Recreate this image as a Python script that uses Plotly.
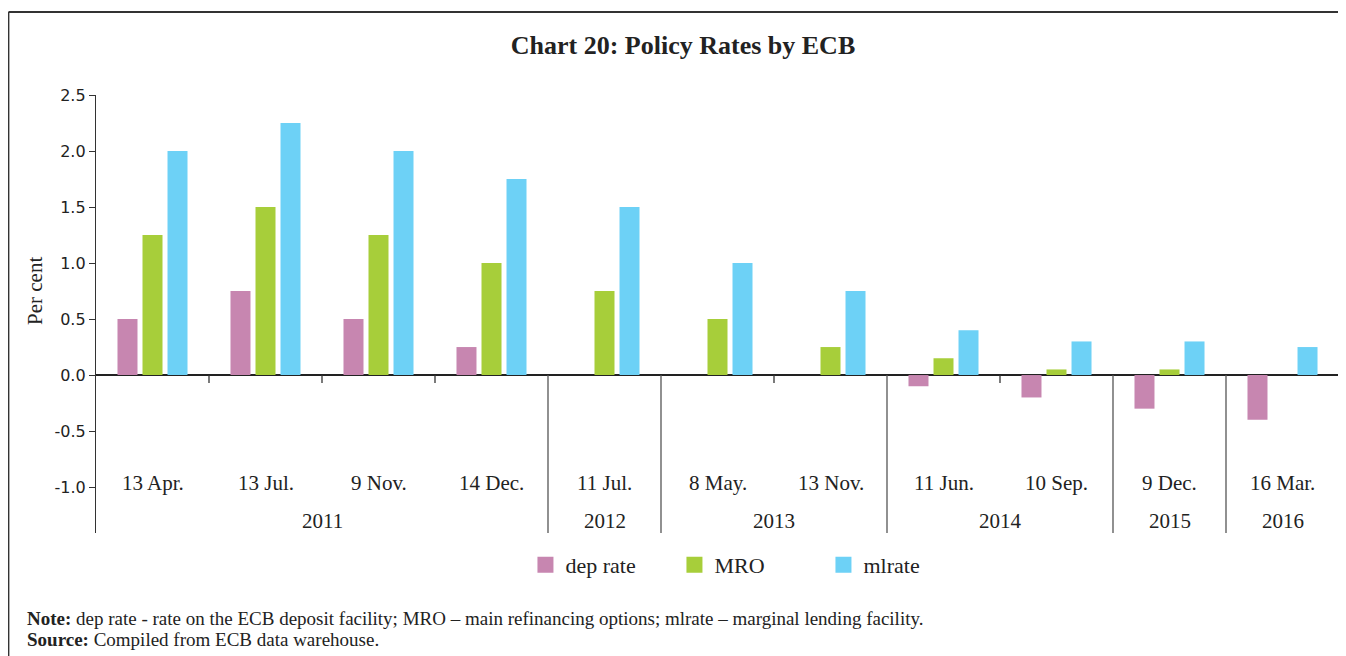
import plotly.graph_objects as go

# ---- data ----
dates = ["13 Apr.", "13 Jul.", "9 Nov.", "14 Dec.", "11 Jul.", "8 May.", "13 Nov.",
         "11 Jun.", "10 Sep.", "9 Dec.", "16 Mar."]
years = ["2011", "2011", "2011", "2011", "2012", "2013", "2013", "2014", "2014", "2015", "2016"]
dep_rate = [0.50, 0.75, 0.50, 0.25, 0.00, 0.00, 0.00, -0.10, -0.20, -0.30, -0.40]
mro = [1.25, 1.50, 1.25, 1.00, 0.75, 0.50, 0.25, 0.15, 0.05, 0.05, 0.00]
mlrate = [2.00, 2.25, 2.00, 1.75, 1.50, 1.00, 0.75, 0.40, 0.30, 0.30, 0.25]
y_ticks = [-1.0, -0.5, 0.0, 0.5, 1.0, 1.5, 2.0, 2.5]

series_names = ["dep rate", "MRO", "mlrate"]
series_colors = ["#C786B0", "#A7CE3A", "#6DD1F6"]

FONT = "Liberation Serif"
TICKFONT = "DejaVu Sans"
TXT = "#222222"
idx = list(range(len(dates)))

fig = go.Figure()
for name, vals, col in zip(series_names, [dep_rate, mro, mlrate], series_colors):
    fig.add_trace(go.Bar(x=idx, y=vals, name=name, marker_color=col,
                         marker_line_width=0, showlegend=False))
    # legend entry with a larger square swatch
    fig.add_trace(go.Scatter(x=[None], y=[None], mode="markers", name=name,
                             marker=dict(symbol="square", size=16, color=col)))

Y_MIN, Y_MAX = -1.41, 2.5

shapes = []
for i in range(len(dates)):
    xb = i + 0.5
    if i == len(dates) - 1 or years[i] != years[i + 1]:
        shapes.append(dict(type="line", xref="x", yref="y", x0=xb, x1=xb, y0=0, y1=Y_MIN,
                           line=dict(color="#555555", width=1.3)))
    else:
        shapes.append(dict(type="line", xref="x", yref="y", x0=xb, x1=xb, y0=0, y1=-0.07,
                           line=dict(color="#333333", width=1.3)))
# outer frame (top and left edges only are visible)
shapes.append(dict(type="line", xref="paper", yref="paper", x0=-0.0704, x1=1.05,
                   y0=1.1895, y1=1.1895, line=dict(color="#333333", width=1.8)))
shapes.append(dict(type="line", xref="paper", yref="paper", x0=-0.0704, x1=-0.0704,
                   y0=-0.4, y1=1.1895, line=dict(color="#333333", width=1.8)))

annotations = []
for i, d in enumerate(dates):
    annotations.append(dict(x=i, y=-0.964, xref="x", yref="y", text=d, showarrow=False,
                            font=dict(family=FONT, size=21, color=TXT)))
groups = []
for i, y in enumerate(years):
    if groups and groups[-1][0] == y:
        groups[-1][2] = i
    else:
        groups.append([y, i, i])
for y, a, b in groups:
    annotations.append(dict(x=(a + b) / 2, y=-1.304, xref="x", yref="y", text=y,
                            showarrow=False, font=dict(family=FONT, size=21, color=TXT)))

annotations.append(dict(x=-0.0491, y=0.75, xref="paper", yref="y", text="Per cent",
                        textangle=-90, showarrow=False, xanchor="center", yanchor="middle",
                        font=dict(family=FONT, size=21, color=TXT)))
annotations.append(dict(x=-0.0571, y=-0.196, xref="paper", yref="paper", xanchor="left",
                        yanchor="middle", showarrow=False, align="left",
                        text="<b>Note:</b> dep rate - rate on the ECB deposit facility; MRO \u2013 main refinancing options; mlrate \u2013 marginal lending facility.",
                        font=dict(family=FONT, size=19, color=TXT)))
annotations.append(dict(x=-0.0571, y=-0.244, xref="paper", yref="paper", xanchor="left",
                        yanchor="middle", showarrow=False, align="left",
                        text="<b>Source:</b> Compiled from ECB data warehouse.",
                        font=dict(family=FONT, size=19, color=TXT)))

fig.update_layout(
    width=1338, height=648,
    margin=dict(l=88, r=7, t=87, b=123),
    paper_bgcolor="white", plot_bgcolor="white",
    barmode="group", bargap=0.336, bargroupgap=0.2,
    title=dict(text="<b>Chart 20: Policy Rates by ECB</b>", x=675 / 1338, xanchor="center",
               y=1 - 37 / 648, yanchor="middle",
               font=dict(family=FONT, size=26, color=TXT)),
    xaxis=dict(range=[-0.5, len(dates) - 0.5], visible=False, fixedrange=True),
    yaxis=dict(range=[Y_MIN, Y_MAX], tickvals=y_ticks,
               ticktext=[f"{v:.1f}" for v in y_ticks],
               showgrid=False, showline=True, linecolor="#333333", linewidth=1.3,
               ticks="outside", ticklen=6, tickcolor="#333333", tickwidth=1.3,
               zeroline=True, zerolinecolor="#222222", zerolinewidth=1.5,
               tickfont=dict(family=TICKFONT, size=16, color=TXT)),
    legend=dict(orientation="h", x=0.3455, xanchor="left", y=-0.073, yanchor="middle",
                font=dict(family=FONT, size=22, color=TXT),
                entrywidth=104, entrywidthmode="pixels", itemwidth=30),
    shapes=shapes, annotations=annotations,
)

fig.write_html("out.html")
